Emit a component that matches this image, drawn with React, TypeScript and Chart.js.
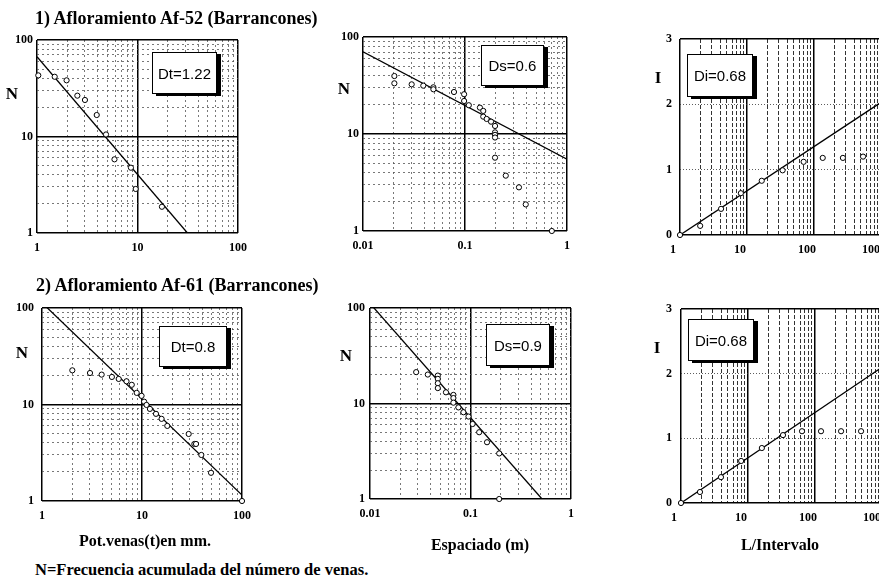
import React, { useEffect, useRef } from "react";
import { Chart, registerables } from "chart.js";

Chart.register(...registerables);

// ---------- Data ----------
// Panel 1: Af-52, potencia de venas (mm) vs N
const p1T = [1.03, 1.5, 1.97, 2.52, 3.0, 3.93, 4.86, 5.9, 8.6, 9.6, 17.5];
const p1N = [43, 41.6, 38.2, 26.5, 23.9, 16.7, 10.5, 5.8, 4.75, 2.86, 1.87];
const p1LineT = [1, 31.4];
const p1LineN = [67, 1];

// Panel 2: Af-52, espaciado (m) vs N
const p2S = [0.0203, 0.0203, 0.03, 0.039, 0.049, 0.049, 0.078, 0.098, 0.098, 0.109, 0.14, 0.151, 0.151, 0.163, 0.18, 0.197, 0.197, 0.197, 0.197, 0.197, 0.251, 0.338, 0.394, 0.71];
const p2N = [39.6, 33.3, 32.5, 31.5, 30.3, 28.9, 27.1, 25.7, 21.9, 19.8, 18.7, 17.3, 15.1, 14.3, 13.4, 12.1, 10.4, 9.8, 9.2, 5.7, 3.72, 2.82, 1.88, 1.0];
const p2LineS = [0.01, 1];
const p2LineN = [70.5, 5.5];

// Panel 3: Af-52, L/Intervalo vs I
const p3L = [1, 2, 4.1, 8.1, 16.6, 34, 70, 135, 270, 540];
const p3I = [0, 0.14, 0.4, 0.64, 0.83, 0.99, 1.12, 1.18, 1.18, 1.2];
const p3LineL = [1, 1000];
const p3LineI = [0, 2.03];

// Panel 4: Af-61, potencia de venas (mm) vs N
const p4T = [2.01, 3.02, 3.95, 5.0, 5.85, 7.0, 7.9, 8.85, 9.9, 10.5, 11.1, 12, 13.8, 15.7, 17.9, 29.3, 33.4, 34.7, 39.2, 49, 100];
const p4N = [22.6, 21.2, 20.4, 19.3, 18.4, 17.4, 16.0, 13.2, 12.3, 10.7, 9.9, 9.0, 8.0, 7.1, 6.0, 4.95, 3.9, 3.9, 3.0, 1.96, 1.0];
const p4LineT = [1.03, 100];
const p4LineN = [110, 1.15];

// Panel 5: Af-61, espaciado (m) vs N
const p5S = [0.0288, 0.0376, 0.0473, 0.0473, 0.0473, 0.0473, 0.057, 0.0676, 0.0676, 0.0676, 0.0758, 0.085, 0.0955, 0.105, 0.122, 0.146, 0.193, 0.193];
const p5N = [21.3, 20.1, 19.6, 18.1, 16.3, 14.5, 13.1, 12.3, 11.4, 10.2, 9.1, 8.1, 7.3, 6.1, 5.0, 3.93, 3.0, 1.0];
const p5LineS = [0.0106, 0.515];
const p5LineN = [104, 1];

// Panel 6: Af-61, L/Intervalo vs I
const p6L = [1, 1.92, 3.95, 7.9, 16.1, 33.3, 64, 123, 245, 487];
const p6I = [0, 0.17, 0.4, 0.65, 0.85, 1.05, 1.11, 1.11, 1.11, 1.11];
const p6LineL = [1, 1000];
const p6LineI = [0, 2.1];

// ---------- Tick labels ----------
const decadeMinors = [2, 3, 4, 5, 6, 7, 8, 9];
const nMajors = [1, 10, 100];
const nLabels = ["1", "10", "100"];
const tMajors = [1, 10, 100];
const tLabels = ["1", "10", "100"];
const sMajors = [0.01, 0.1, 1];
const sLabels = ["0.01", "0.1", "1"];
const lMajors = [1, 10, 100, 1000];
const lLabels = ["1", "10", "100", "1000"];
const iTicks = [0, 1, 2, 3];
const iLabels = ["0", "1", "2", "3"];
const iSolid = [0, 3];

function logGrid(majors: number[]): number[] {
  const out: number[] = [];
  majors.forEach((m, i) => {
    out.push(m);
    if (i < majors.length - 1) decadeMinors.forEach((k) => out.push(m * k));
  });
  return out;
}

type AxisSpec = {
  type: "logarithmic" | "linear";
  min: number;
  max: number;
  ticks: number[];
  labeled: number[];
  labels: string[];
  solid: number[];
  minorColor?: string;
  minorWidth?: number;
  minorDash?: number[];
  labelOffset?: number;
  pad?: number;
};

type Spec = {
  L: number; T: number; R: number; B: number;
  x: AxisSpec; y: AxisSpec;
  px: number[]; py: number[];
  lx: number[]; ly: number[];
};

const PAD_L = 48, PAD_T = 14, PAD_R = 16, PAD_B = 32;
const tickFont = { family: "'Liberation Serif', 'Times New Roman', serif", size: 12, weight: "bold" as const };

function axisOptions(a: AxisSpec, isX: boolean) {
  const solidSet = a.solid;
  return {
    type: a.type,
    min: a.min,
    max: a.max,
    position: isX ? "bottom" : "left",
    afterBuildTicks: (s: any) => {
      s.ticks = a.ticks.map((v) => ({ value: v }));
    },
    afterFit: (s: any) => {
      if (isX) s.height = PAD_B; else s.width = PAD_L;
      s.paddingLeft = 0; s.paddingRight = 0; s.paddingTop = 0; s.paddingBottom = 0;
    },
    ticks: {
      autoSkip: false,
      maxRotation: 0,
      minRotation: 0,
      padding: a.pad ?? (isX ? 8 : 5),
      labelOffset: a.labelOffset ?? 0,
      color: "#000",
      font: tickFont,
      callback: (v: any) => {
        const idx = a.labeled.indexOf(Number(v));
        return idx >= 0 ? a.labels[idx] : "";
      },
    },
    grid: {
      drawTicks: false,
      color: (ctx: any) => (solidSet.includes(ctx.tick?.value) ? "#000" : a.minorColor ?? "#555"),
      lineWidth: (ctx: any) => (solidSet.includes(ctx.tick?.value) ? 1.5 : a.minorWidth ?? 0.8),
    },
    border: {
      display: false,
      dash: (ctx: any) => (solidSet.includes(ctx.tick?.value) ? [] : a.minorDash ?? [2, 3]),
    },
  };
}

function buildConfig(sp: Spec): any {
  const points = sp.px.map((x, i) => ({ x, y: sp.py[i] }));
  const line = sp.lx.map((x, i) => ({ x, y: sp.ly[i] }));
  return {
    type: "scatter",
    data: {
      datasets: [
        {
          data: points,
          showLine: false,
          pointRadius: 2.6,
          pointBorderWidth: 1,
          pointBorderColor: "#000",
          pointBackgroundColor: "#fff",
          clip: false,
        },
        {
          data: line,
          showLine: true,
          pointRadius: 0,
          borderColor: "#000",
          borderWidth: 1.3,
        },
      ],
    },
    options: {
      responsive: false,
      animation: false,
      events: [],
      layout: { padding: { left: 0, top: PAD_T, right: PAD_R, bottom: 0 } },
      plugins: { legend: { display: false }, tooltip: { enabled: false } },
      scales: { x: axisOptions(sp.x, true), y: axisOptions(sp.y, false) },
    },
  };
}

function Panel({ sp }: { sp: Spec }) {
  const ref = useRef<HTMLCanvasElement | null>(null);
  const w = sp.R - sp.L + PAD_L + PAD_R;
  const h = sp.B - sp.T + PAD_T + PAD_B;
  useEffect(() => {
    if (!ref.current) return;
    const chart = new Chart(ref.current, buildConfig(sp));
    return () => chart.destroy();
  }, []);
  return (
    <canvas
      ref={ref}
      width={w}
      height={h}
      style={{ position: "absolute", left: sp.L - PAD_L, top: sp.T - PAD_T, width: w, height: h }}
    />
  );
}

const vX = { minorColor: "#333", minorWidth: 1, minorDash: [4, 2] };

const specs: Spec[] = [
  {
    L: 37, T: 40, R: 238, B: 233,
    x: { type: "logarithmic", min: 1, max: 100, ticks: logGrid(tMajors), labeled: tMajors, labels: tLabels, solid: tMajors },
    y: { type: "logarithmic", min: 1, max: 100, ticks: logGrid(nMajors), labeled: nMajors, labels: nLabels, solid: nMajors, pad: 4 },
    px: p1T, py: p1N, lx: p1LineT, ly: p1LineN,
  },
  {
    L: 363, T: 37, R: 567, B: 231,
    x: { type: "logarithmic", min: 0.01, max: 1, ticks: logGrid(sMajors), labeled: sMajors, labels: sLabels, solid: sMajors },
    y: { type: "logarithmic", min: 1, max: 100, ticks: logGrid(nMajors), labeled: nMajors, labels: nLabels, solid: nMajors, pad: 4 },
    px: p2S, py: p2N, lx: p2LineS, ly: p2LineN,
  },
  {
    L: 680, T: 39, R: 881, B: 235,
    x: { type: "logarithmic", min: 1, max: 1000, ticks: logGrid(lMajors), labeled: lMajors, labels: lLabels, solid: lMajors, labelOffset: -7, ...vX },
    y: { type: "linear", min: 0, max: 3, ticks: iTicks, labeled: iTicks, labels: iLabels, solid: iSolid, pad: 8, minorDash: [1, 2], minorColor: "#333" },
    px: p3L, py: p3I, lx: p3LineL, ly: p3LineI,
  },
  {
    L: 42, T: 308, R: 242, B: 501,
    x: { type: "logarithmic", min: 1, max: 100, ticks: logGrid(tMajors), labeled: tMajors, labels: tLabels, solid: tMajors },
    y: { type: "logarithmic", min: 1, max: 100, ticks: logGrid(nMajors), labeled: nMajors, labels: nLabels, solid: nMajors, pad: 8 },
    px: p4T, py: p4N, lx: p4LineT, ly: p4LineN,
  },
  {
    L: 370, T: 308, R: 571, B: 499,
    x: { type: "logarithmic", min: 0.01, max: 1, ticks: logGrid(sMajors), labeled: sMajors, labels: sLabels, solid: sMajors },
    y: { type: "logarithmic", min: 1, max: 100, ticks: logGrid(nMajors), labeled: nMajors, labels: nLabels, solid: nMajors, pad: 5 },
    px: p5S, py: p5N, lx: p5LineS, ly: p5LineN,
  },
  {
    L: 681, T: 309, R: 882, B: 503,
    x: { type: "logarithmic", min: 1, max: 1000, ticks: logGrid(lMajors), labeled: lMajors, labels: lLabels, solid: lMajors, labelOffset: -7, ...vX },
    y: { type: "linear", min: 0, max: 3, ticks: iTicks, labeled: iTicks, labels: iLabels, solid: iSolid, pad: 9, minorDash: [1, 2], minorColor: "#333" },
    px: p6L, py: p6I, lx: p6LineL, ly: p6LineI,
  },
];

const serif = "'Liberation Serif', 'Times New Roman', serif";

const boxes = [
  { left: 152, top: 52, w: 65, h: 42, text: "Dt=1.22" },
  { left: 481, top: 45, w: 63, h: 41, text: "Ds=0.6" },
  { left: 687, top: 54, w: 66, h: 43, text: "Di=0.68" },
  { left: 159, top: 326, w: 68, h: 41, text: "Dt=0.8" },
  { left: 486, top: 324, w: 64, h: 42, text: "Ds=0.9" },
  { left: 688, top: 319, w: 66, h: 42, text: "Di=0.68" },
];

const centeredTexts = [
  { x: 12, y: 93, text: "N", size: 17 },
  { x: 344, y: 88, text: "N", size: 17 },
  { x: 658, y: 77, text: "I", size: 17 },
  { x: 22, y: 352, text: "N", size: 17 },
  { x: 346, y: 355, text: "N", size: 17 },
  { x: 657, y: 347, text: "I", size: 17 },
  { x: 145, y: 541, text: "Pot.venas(t)en mm.", size: 16 },
  { x: 480, y: 545, text: "Espaciado (m)", size: 16 },
  { x: 780, y: 545, text: "L/Intervalo", size: 16 },
];

const leftTexts = [
  { x: 35, y: 18, text: "1) Afloramiento Af-52 (Barrancones)", size: 18 },
  { x: 36, y: 285, text: "2) Afloramiento Af-61 (Barrancones)", size: 18 },
  { x: 35, y: 570, text: "N=Frecuencia acumulada del número de venas.", size: 16.5 },
];

export default function App() {
  return (
    <div
      style={{
        position: "absolute",
        left: 0,
        top: 0,
        width: 879,
        height: 579,
        overflow: "hidden",
        background: "#fff",
      }}
    >
      {specs.map((sp, i) => (
        <Panel key={i} sp={sp} />
      ))}
      {boxes.map((b, i) => (
        <div
          key={"b" + i}
          style={{
            position: "absolute",
            left: b.left,
            top: b.top,
            width: b.w,
            height: b.h,
            boxSizing: "border-box",
            border: "1px solid #000",
            boxShadow: "4px 2px 0 #000",
            background: "#fff",
            display: "flex",
            alignItems: "center",
            justifyContent: "center",
            fontFamily: "'Liberation Sans', Arial, sans-serif",
            fontSize: 15,
            color: "#000",
            whiteSpace: "nowrap",
          }}
        >
          {b.text}
        </div>
      ))}
      {centeredTexts.map((t, i) => (
        <div
          key={"c" + i}
          style={{
            position: "absolute",
            left: t.x,
            top: t.y,
            transform: "translate(-50%, -50%)",
            fontFamily: serif,
            fontWeight: "bold",
            fontSize: t.size,
            color: "#000",
            whiteSpace: "nowrap",
            lineHeight: 1,
          }}
        >
          {t.text}
        </div>
      ))}
      {leftTexts.map((t, i) => (
        <div
          key={"l" + i}
          style={{
            position: "absolute",
            left: t.x,
            top: t.y,
            transform: "translate(0, -50%)",
            fontFamily: serif,
            fontWeight: "bold",
            fontSize: t.size,
            color: "#000",
            whiteSpace: "nowrap",
            lineHeight: 1,
          }}
        >
          {t.text}
        </div>
      ))}
    </div>
  );
}
